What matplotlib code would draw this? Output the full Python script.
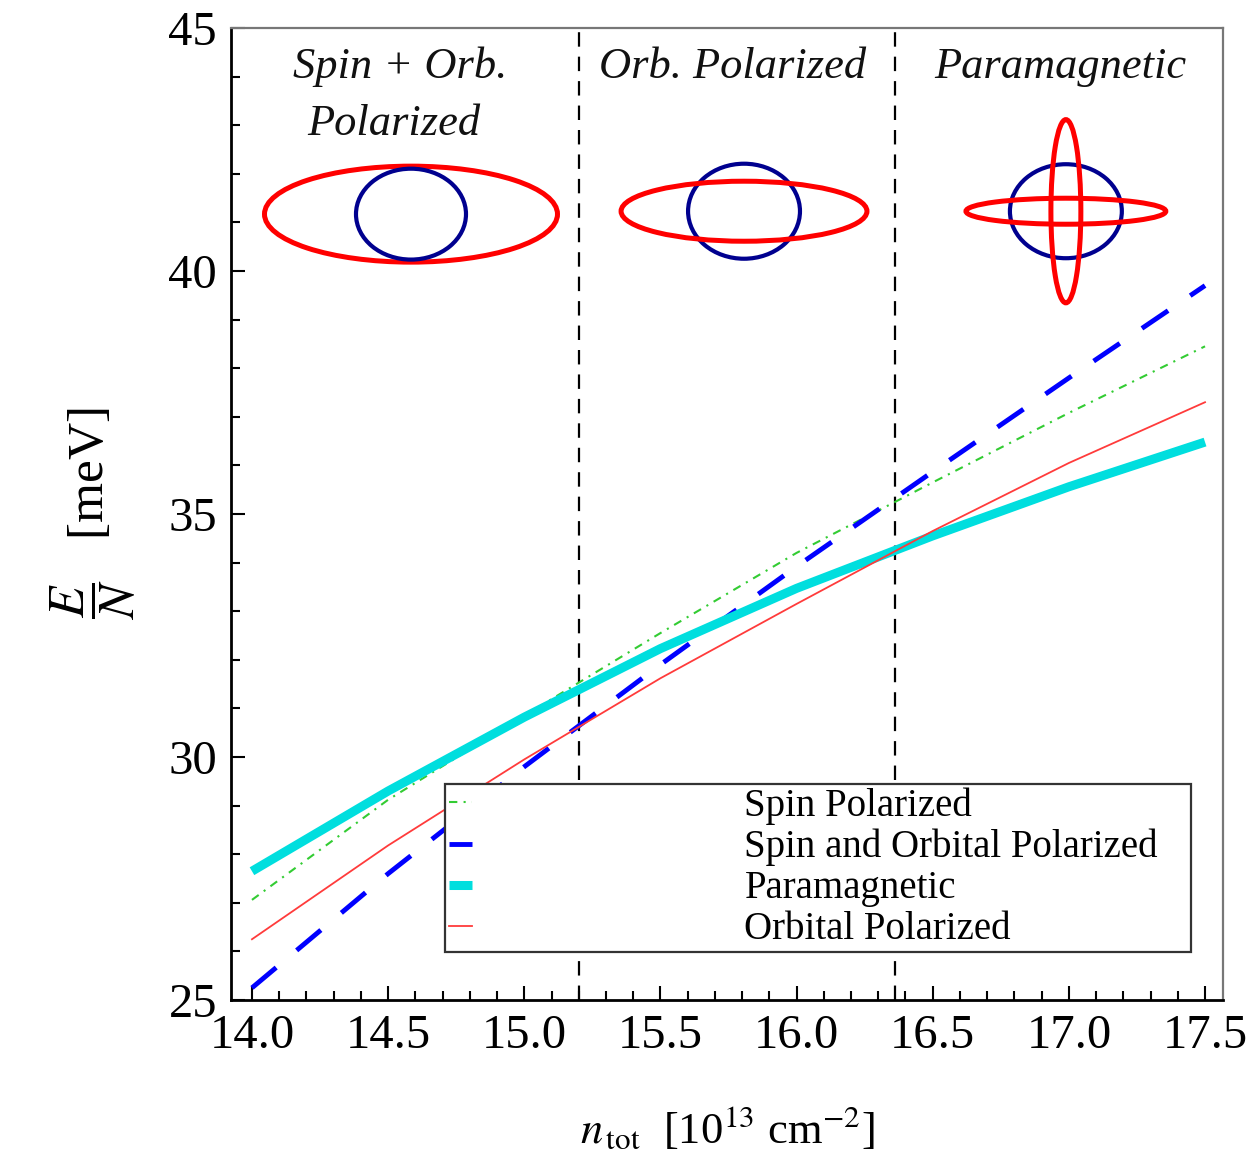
import matplotlib
matplotlib.use("Agg")
import matplotlib.pyplot as plt
from matplotlib.patches import Ellipse
from matplotlib.ticker import MultipleLocator, FormatStrFormatter

plt.rcParams['font.family'] = ['Liberation Serif', 'DejaVu Serif']
plt.rcParams['mathtext.fontset'] = 'stix'

# ---- data ----
n_tot = [14.0, 14.5, 15.0, 15.5, 16.0, 16.5, 17.0, 17.5]
spin_pol = [27.06, 29.12, 30.85, 32.55, 34.2, 35.65, 37.08, 38.45]
spin_orb_pol = [25.25, 27.6, 29.8, 31.9, 33.92, 35.87, 37.8, 39.7]
paramagnetic = [27.65, 29.3, 30.82, 32.23, 33.47, 34.55, 35.56, 36.48]
orb_pol = [26.25, 28.18, 29.95, 31.62, 33.15, 34.65, 36.05, 37.3]
transitions = [15.2, 16.36]
legend_labels = ["Spin Polarized", "Spin and Orbital Polarized",
                 "Paramagnetic", "Orbital Polarized"]
phase_labels = ["Spin + Orb.", "Polarized", "Orb. Polarized", "Paramagnetic"]
x_ticks = [14.0, 14.5, 15.0, 15.5, 16.0, 16.5, 17.0, 17.5]
y_ticks = [25, 30, 35, 40, 45]

fig = plt.figure(figsize=(12.54, 11.55), dpi=100)
ax = fig.add_axes([231/1254, 1 - 1000/1155, (1223-231)/1254, (1000-28)/1155])

l1, = ax.plot(n_tot, spin_pol, color='#33cc33', lw=1.5,
              linestyle=(0, (4, 3, 1, 3)), label=legend_labels[0])
l2, = ax.plot(n_tot, spin_orb_pol, color='#0000ff', lw=3.5,
              linestyle=(0, (6.5, 5.5)), label=legend_labels[1])
l3, = ax.plot(n_tot, paramagnetic, color='#00dede', lw=6.5,
              solid_capstyle='butt', label=legend_labels[2])
l4, = ax.plot(n_tot, orb_pol, color='#ff3b3b', lw=1.3, label=legend_labels[3])

for xt in transitions:
    ax.axvline(xt, color='black', lw=1.6, linestyle=(0, (6.5, 4.5)), zorder=1)

ax.set_xlim(13.923, 17.566)
ax.set_ylim(25, 45)
ax.set_xticks(x_ticks)
ax.set_yticks(y_ticks)
ax.xaxis.set_major_formatter(FormatStrFormatter('%.1f'))
ax.xaxis.set_minor_locator(MultipleLocator(0.1))
ax.yaxis.set_minor_locator(MultipleLocator(1))
ax.tick_params(which='both', direction='in', top=False, right=False,
               labelsize=35, width=1.5)
ax.tick_params(which='major', length=10, pad=10)
ax.tick_params(which='minor', length=6.5)

for s in ['left', 'bottom']:
    ax.spines[s].set_linewidth(2.0)
    ax.spines[s].set_color('black')
for s in ['top', 'right']:
    ax.spines[s].set_linewidth(1.6)
    ax.spines[s].set_color('#777777')

# phase insets (Fermi surface sketches)
red = '#ff0000'
navy = '#00008f'
# left
ax.add_patch(Ellipse((14.584, 41.17), 1.076, 1.975, fill=False, ec=red, lw=3.6))
ax.add_patch(Ellipse((14.584, 41.17), 0.404, 1.87, fill=False, ec=navy, lw=3.0))
# middle
ax.add_patch(Ellipse((15.807, 41.23), 0.411, 1.955, fill=False, ec=navy, lw=3.0))
ax.add_patch(Ellipse((15.807, 41.23), 0.903, 1.235, fill=False, ec=red, lw=3.6))
# right
ax.add_patch(Ellipse((16.989, 41.23), 0.411, 1.934, fill=False, ec=navy, lw=3.0))
ax.add_patch(Ellipse((16.989, 41.23), 0.734, 0.535, fill=False, ec=red, lw=3.6))
ax.add_patch(Ellipse((16.989, 41.23), 0.110, 3.77, fill=False, ec=red, lw=3.6))

tkw = dict(ha='center', va='center', fontsize=32, style='italic', color='#111111')
ax.text(14.544, 44.2, phase_labels[0], **tkw)
ax.text(14.52, 43.02, phase_labels[1], **tkw)
ax.text(15.766, 44.2, phase_labels[2], **tkw)
ax.text(16.967, 44.2, phase_labels[3], **tkw)

leg = ax.legend(handles=[l1, l2, l3, l4], loc='lower left',
                bbox_to_anchor=(214/992, 48/972, 746/992, 170/972),
                mode='expand', borderaxespad=0, fontsize=28,
                handlelength=0.6, handletextpad=7.0, labelspacing=0.1,
                borderpad=0.1, fancybox=False, framealpha=1,
                edgecolor='#333333')
leg.get_frame().set_linewidth(1.6)
leg.set_zorder(5)

ax.set_xlabel(r'$n_{\,\mathrm{tot}}$  [10$^{13}$ cm$^{-2}$]', fontsize=32, labelpad=34)
ax.set_ylabel(r'$\dfrac{E}{N}$   [meV]', fontsize=37, labelpad=22)

fig.savefig('out.png', dpi=100)
